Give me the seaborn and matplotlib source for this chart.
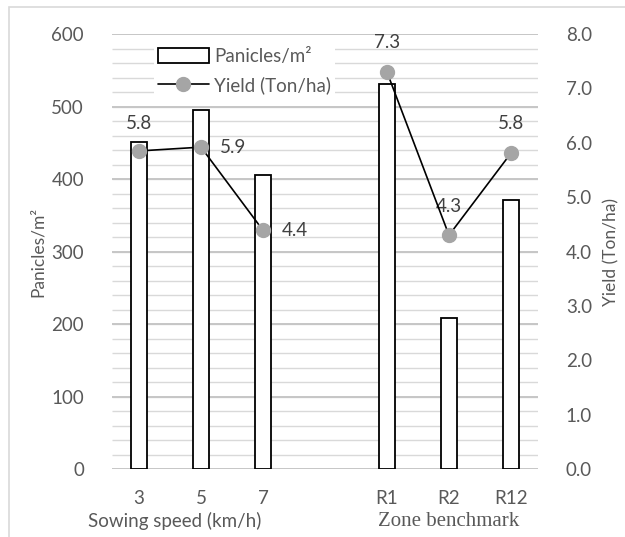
import numpy as np
import pandas as pd
import seaborn as sns
import matplotlib.pyplot as plt
from matplotlib.patches import Rectangle, Patch
from matplotlib.lines import Line2D
from matplotlib.ticker import MultipleLocator, FormatStrFormatter

# values
categories = ['3', '5', '7', '', 'R1', 'R2', 'R12']
bar_cats = ['3', '5', '7', 'R1', 'R2', 'R12']
panicles = [451, 495, 405, 531, 208, 371]
yield_vals = [5.85, 5.92, 4.39, 7.30, 4.30, 5.81]
yield_labels = ['5.8', '5.9', '4.4', '7.3', '4.3', '5.8']
groups = ['speed', 'speed', 'speed', 'zone', 'zone', 'zone']

df = pd.DataFrame({'cat': bar_cats, 'panicles': panicles,
                   'yield': yield_vals, 'group': groups})
df['pos'] = [categories.index(c) for c in bar_cats]

sns.set_style('white')
plt.rcParams['font.family'] = ['Lato', 'DejaVu Sans']
tick_col = '#595959'
fs = 13.5

fig = plt.figure(figsize=(6.25, 5.37), dpi=100)
ax = fig.add_axes([0.179, 0.1266, 0.682, 0.81])

sns.barplot(data=df, x='cat', y='panicles', order=categories, width=0.25,
            color='white', edgecolor='black', linewidth=1.3, ax=ax, zorder=3)

ax.set_ylim(0, 600)
ax.yaxis.set_major_locator(MultipleLocator(100))
# grid: light lines every 20, darker every 100
ax.hlines(np.arange(20, 600, 20), 0, 1, transform=ax.get_yaxis_transform(),
          colors='#d9d9d9', linewidth=1.0, zorder=1)
ax.hlines(np.arange(0, 601, 100), 0, 1, transform=ax.get_yaxis_transform(),
          colors='#c6c6c6', linewidth=1.4, zorder=1.5)
for s in ax.spines.values():
    s.set_visible(False)
ax.tick_params(axis='both', which='both', length=0, labelsize=fs, colors=tick_col)
ax.tick_params(axis='y', pad=20)
ax.tick_params(axis='x', pad=15)
ax.set_xlabel('')
ax.set_ylabel('Panicles/m²', fontsize=12.5, color=tick_col, labelpad=4)

ax2 = ax.twinx()
for g, sub in df.groupby('group'):
    ax2.plot(sub['pos'], sub['yield'], color='black', linewidth=1.2,
             marker='o', markersize=10, markerfacecolor='#a5a5a5',
             markeredgecolor='#a5a5a5', zorder=4)
ax2.set_ylim(0, 8)
ax2.yaxis.set_major_locator(MultipleLocator(1))
ax2.yaxis.set_major_formatter(FormatStrFormatter('%.1f'))
for s in ax2.spines.values():
    s.set_visible(False)
ax2.tick_params(axis='y', which='both', length=0, labelsize=fs, colors=tick_col, pad=20)
ax2.set_ylabel('Yield (Ton/ha)', fontsize=12.5, color=tick_col, labelpad=8)
ax2.grid(False)

# data labels
offsets = [(0, 20), (23, 0), (23, 0), (0, 21), (0, 21), (0, 21)]
for p, v, lab, (dx, dy) in zip(df['pos'], yield_vals, yield_labels, offsets):
    ax2.annotate(lab, (p, v), xytext=(dx, dy), textcoords='offset points',
                 ha='center', va='center', fontsize=fs, color='#404040')

# legend
handles = [Patch(facecolor='white', edgecolor='black', linewidth=1.3),
           Line2D([], [], color='black', linewidth=1.2, marker='o', markersize=10,
                  markerfacecolor='#a5a5a5', markeredgecolor='#a5a5a5')]
leg = ax2.legend(handles, ['Panicles/m²', 'Yield (Ton/ha)'],
                 loc='upper left', bbox_to_anchor=(0.232, 0.935), bbox_transform=fig.transFigure,
                 fontsize=fs, frameon=True, facecolor='white', edgecolor='none',
                 framealpha=1, fancybox=False, handlelength=2.7, handleheight=0.8,
                 handletextpad=0.3, labelspacing=0.6, borderpad=0.2)
for t in leg.get_texts():
    t.set_color(tick_col)

# group captions
fig.text(0.279, 0.029, 'Sowing speed (km/h)', ha='center', va='center',
         fontsize=fs, color=tick_col)
fig.text(0.717, 0.029, 'Zone benchmark', ha='center', va='center',
         fontsize=15, color=tick_col, family=['Liberation Serif', 'DejaVu Serif'])

# outer border
fig.patches.append(Rectangle((9 / 625, -0.01), 1.0, 1 - 7 / 537 + 0.01,
                             transform=fig.transFigure, fill=False,
                             edgecolor='#d9d9d9', linewidth=1.2))

fig.savefig('out.png', dpi=100)
